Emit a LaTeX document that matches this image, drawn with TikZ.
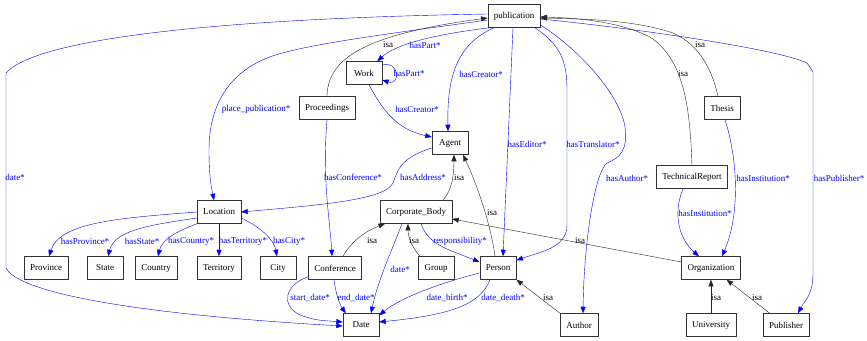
\documentclass[tikz,border=0pt]{standalone}
\usepackage{fontspec}
\setmainfont{Liberation Serif}
\usepackage{tikz}
\usetikzlibrary{arrows.meta}

\begin{document}
\begin{tikzpicture}[x=1pt, y=-1pt, >={Triangle[length=6.5pt,width=5pt]},
      font=\fontsize{9}{10}\selectfont,
      cls/.style={draw=black!80, line width=0.5pt, minimum width=36pt, minimum height=23pt, inner xsep=6pt, inner ysep=0pt},
      rel/.style={->, blue, line width=0.4pt},
      sub/.style={->, black!85, line width=0.4pt},
      lbl/.style={text=blue, inner sep=0pt},
      isalbl/.style={text=black, inner sep=0pt}]
      \useasboundingbox (0,0) rectangle (867,340);
      \node[cls] (pub) at (514,16) {publication};
      \node[cls] (work) at (364,73) {Work};
      \node[cls] (proc) at (327,108) {Proceedings};
      \node[cls] (agent) at (450,143) {Agent};
      \node[cls] (thesis) at (722,108) {Thesis};
      \node[cls] (tr) at (692,177) {TechnicalReport};
      \node[cls] (loc) at (219,212) {Location};
      \node[cls] (corp) at (416,212) {Corporate\_Body};
      \node[cls] (prov) at (46,268) {Province};
      \node[cls] (state) at (105,268) {State};
      \node[cls] (country) at (156,268) {Country};
      \node[cls] (terr) at (219,268) {Territory};
      \node[cls] (city) at (278,268) {City};
      \node[cls] (conf) at (335,268) {Conference};
      \node[cls] (group) at (436,268) {Group};
      \node[cls] (person) at (498,268) {Person};
      \node[cls] (org) at (711,268) {Organization};
      \node[cls] (date) at (361,325) {Date};
      \node[cls] (author) at (579,325) {Author};
      \node[cls] (univ) at (711,325) {University};
      \node[cls] (publ) at (786,325) {Publisher};

      \draw[rel] ([yshift=2pt]pub.west) .. controls (250,18) and (40,35) .. (6,73) -- (6,268)
        .. controls (18,292) and (130,314) .. ([yshift=-1pt]date.west) node[lbl] at (15,177) {date*};
      \draw[rel] ([yshift=-4pt]pub.west) .. controls (380,35) and (300,45) .. (267,58)
        .. controls (225,75) and (209,110) .. (209,150) .. controls (209,180) and (212,190) .. ([xshift=-5pt]loc.north)
        node[lbl] at (256,109) {place\_publication*};
      \draw[rel] ([xshift=2pt]pub.south west) .. controls (430,35) and (395,45) .. ([xshift=-5pt]work.north east)
        node[lbl] at (425,45) {hasPart*};
      \draw[rel] ([yshift=8pt]work.east) .. controls (399,60) and (401,86) .. ([yshift=-7pt]work.east)
        node[lbl] at (409,73) {hasPart*};
      \draw[sub] (proc.north) .. controls (328,60) and (360,35) .. ([yshift=-2pt]pub.west)
        node[isalbl] at (388,45) {isa};
      \draw[rel] ([xshift=5pt]work.south) .. controls (385,115) and (400,130) .. ([yshift=6pt]agent.west)
        node[lbl] at (417,109) {hasCreator*};
      \draw[rel] ([xshift=-20pt]pub.south) .. controls (455,45) and (447,80) .. ([xshift=-2pt]agent.north)
        node[lbl] at (481,74) {hasCreator*};
      \draw[rel] ([xshift=-1pt]pub.south) -- ([xshift=5pt]person.north)
        node[lbl] at (527,144) {hasEditor*};
      \draw[rel] ([xshift=21pt]pub.south) .. controls (560,45) and (567,60) .. (567,90) -- (567,225)
        .. controls (567,248) and (540,252) .. ([yshift=-4pt]person.north east)
        node[lbl] at (593,144) {hasTranslator*};
      \draw[rel] ([yshift=-9pt]pub.east) .. controls (580,50) and (620,95) .. (625,127)
        .. controls (628,150) and (620,158) .. (607,163) .. controls (595,172) and (584,240) .. ([xshift=4pt]author.north)
        node[lbl] at (627,178) {hasAuthor*};
      \draw[rel] ([yshift=-3pt]pub.east) .. controls (650,30) and (780,50) .. (807,63) -- (813,72) -- (813,273)
        .. controls (813,295) and (805,300) .. ([xshift=12pt]publ.north)
        node[lbl] at (839,178) {hasPublisher*};
      \draw[sub] ([xshift=-4pt]thesis.north) .. controls (712,70) and (700,45) .. (673,33)
        .. controls (640,22) and (600,19) .. ([yshift=-2pt]pub.east)
        node[isalbl] at (700,45) {isa};
      \draw[sub] (tr.north) .. controls (690,110) and (685,60) .. (650,37)
        .. controls (620,22) and (580,18) .. ([yshift=-1pt]pub.east)
        node[isalbl] at (683,74) {isa};
      \draw[rel] ([xshift=3pt]thesis.south) .. controls (738,160) and (740,215) .. ([xshift=11pt]org.north)
        node[lbl] at (763,178) {hasInstitution*};
      \draw[rel] ([xshift=-9pt]tr.south) .. controls (672,215) and (680,240) .. ([xshift=-12pt]org.north)
        node[lbl] at (705,213) {hasInstitution*};
      \draw[rel] (proc.south) .. controls (322,180) and (330,220) .. ([xshift=-3pt]conf.north)
        node[lbl] at (353,177) {hasConference*};
      \draw[rel] ([yshift=-5pt]agent.west) .. controls (400,158) and (398,170) .. (393,183)
        .. controls (385,200) and (320,205) .. (loc.east)
        node[lbl] at (423,177) {hasAddress*};
      \draw[sub] ([xshift=27pt]corp.north) .. controls (452,190) and (454,175) .. ([xshift=4pt]agent.south)
        node[isalbl] at (459,178) {isa};
      \draw[sub] ([xshift=-3pt]person.north) .. controls (490,220) and (475,180) .. ([xshift=13pt]agent.south)
        node[isalbl] at (492,213) {isa};
      \draw[sub] ([yshift=6pt]org.west) -- ([yshift=-7pt]corp.east)
        node[isalbl] at (580,241) {isa};
      \draw[sub] ([xshift=-16pt]group.north) .. controls (410,245) and (408,235) .. ([xshift=-8pt]corp.south)
        node[isalbl] at (414,241) {isa};
      \draw[sub] ([xshift=8pt]conf.north) .. controls (352,240) and (368,230) .. ([xshift=-31pt]corp.south)
        node[isalbl] at (372,241) {isa};
      \draw[rel] ([xshift=5pt]corp.south) .. controls (428,245) and (450,250) .. ([yshift=6pt]person.west)
        node[lbl] at (460,241) {responsibility*};
      \draw[rel] ([xshift=-14pt]corp.south) .. controls (392,250) and (378,280) .. ([xshift=10pt]date.north)
        node[lbl] at (400,269) {date*};
      \draw[rel] ([yshift=3pt]conf.south west) .. controls (285,285) and (280,305) .. (300,315)
        .. controls (315,320) .. ([yshift=3pt]date.west)
        node[lbl] at (310,298) {start\_date*};
      \draw[rel] ([xshift=-1pt]conf.south) .. controls (336,295) and (340,305) .. ([xshift=3pt]date.north west)
        node[lbl] at (356,298) {end\_date*};
      \draw[rel] ([yshift=-5pt]person.west) .. controls (440,283) and (400,298) .. ([yshift=-2pt]date.north east)
        node[lbl] at (447,298) {date\_birth*};
      \draw[rel] ([xshift=-8pt]person.south) .. controls (480,305) and (450,315) .. ([yshift=3pt]date.east)
        node[lbl] at (503,298) {date\_death*};
      \draw[sub] (author.north west) -- (person.south east)
        node[isalbl] at (548,298) {isa};
      \draw[sub] (univ.north) -- (org.south)
        node[isalbl] at (716,298) {isa};
      \draw[sub] ([xshift=7pt]publ.north west) -- ([xshift=-14pt]org.south east)
        node[isalbl] at (757,298) {isa};
      \draw[rel] (loc.west) .. controls (120,218) and (60,222) .. ([xshift=3pt]prov.north)
        node[lbl] at (85,241) {hasProvince*};
      \draw[rel] ([yshift=-6pt]loc.west) .. controls (150,225) and (115,230) .. ([xshift=3pt]state.north)
        node[lbl] at (142,241) {hasState*};
      \draw[rel] (loc.south west) .. controls (175,232) and (162,240) .. ([xshift=2pt]country.north)
        node[lbl] at (191,241) {hasCountry*};
      \draw[rel] (loc.south) -- (terr.north)
        node[lbl] at (243,241) {hasTerritory*};
      \draw[rel] ([yshift=-6pt]loc.east) .. controls (262,228) and (274,240) .. ([xshift=-1pt]city.north)
        node[lbl] at (289,241) {hasCity*};
    \end{tikzpicture}
\end{document}
